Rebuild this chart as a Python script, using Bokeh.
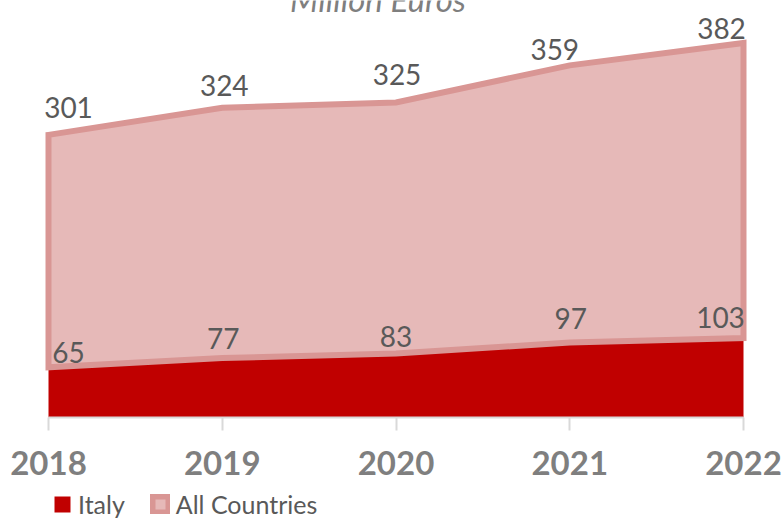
from bokeh.plotting import figure
from bokeh.models import ColumnDataSource, Legend, LegendItem, FixedTicker, Range1d
from bokeh.core.properties import value
from bokeh.embed import file_html
from bokeh.resources import INLINE

# ---- data ----
years = [2018, 2019, 2020, 2021, 2022]
italy = [65, 77, 83, 97, 103]
all_countries = [301, 324, 325, 359, 382]
chart_title = "Million Euros"
series_names = ["Italy", "All Countries"]

# label nudges (pixels), style only; dy > 0 means above the point
italy_dx = [20, 1, 0, 1, -23]
italy_dy = [15, 20, 17, 24, 20]
all_dx = [20, 2, 1, -15, -22]
all_dy = [27, 22, 28, 16, 14]

stack_top = [i + a for i, a in zip(italy, all_countries)]

RED = "#c00000"
PINK_FILL = "#e6b9b8"
PINK_LINE = "#d99694"
LABEL = "#595959"
AXIS_TXT = "#7f7f7f"

# frame covers the whole window; first year sits 48 px from the left,
# last year 40 px from the right, value 0 sits 102 px above the bottom
W, H = 783, 519
PX_PER_YEAR = (W - 48 - 40) / (years[-1] - years[0])
PX_PER_UNIT = 417 / 540
p = figure(frame_width=W, frame_height=H, output_backend="svg", toolbar_location=None,
           x_range=Range1d(years[0] - 48 / PX_PER_YEAR, years[-1] + 40 / PX_PER_YEAR),
           y_range=Range1d(-102 / PX_PER_UNIT, 540),
           min_border_left=0, min_border_right=0, min_border_top=0, min_border_bottom=0,
           y_axis_location=None, outline_line_color=None)
p.grid.visible = False

r_it = p.varea(x=years, y1=[0] * len(years), y2=italy, fill_color=RED)
r_all = p.patch(x=years + years[::-1], y=stack_top + italy[::-1],
                fill_color=PINK_FILL, line_color=PINK_LINE, line_width=6, line_join="miter")

src_all = ColumnDataSource(dict(x=years, y=stack_top, t=[str(v) for v in all_countries],
                                dx=all_dx, dy=[-d for d in all_dy]))
src_it = ColumnDataSource(dict(x=years, y=italy, t=[str(v) for v in italy],
                               dx=italy_dx, dy=[-d for d in italy_dy]))
for src in (src_all, src_it):
    p.text(x="x", y="y", text="t", x_offset="dx", y_offset="dy", source=src,
           text_align="center", text_baseline="middle",
           text_font=value("Lato"), text_font_size="28px", text_color=LABEL)

p.text(x=[2020], y=[540], text=[chart_title], x_offset=-18, y_offset=-2,
       text_align="center", text_baseline="alphabetic",
       text_font=value("Lato"), text_font_style="italic", text_font_size="33px",
       text_color=AXIS_TXT)

ax = p.xaxis[0]
ax.fixed_location = 0
ax.ticker = FixedTicker(ticks=years)
ax.bounds = (years[0], years[-1])
ax.axis_line_color = "#d9d9d9"
ax.axis_line_width = 2
ax.major_tick_line_color = "#d9d9d9"
ax.major_tick_line_width = 2
ax.major_tick_out = 13
ax.major_tick_in = 0
ax.minor_tick_out = 0
ax.minor_tick_in = 0
ax.major_label_standoff = 20
ax.major_label_text_font = "Lato"
ax.major_label_text_font_style = "bold"
ax.major_label_text_font_size = "33px"
ax.major_label_text_color = AXIS_TXT

legend = Legend(items=[LegendItem(label=series_names[0], renderers=[r_it]),
                       LegendItem(label=series_names[1], renderers=[r_all])],
                orientation="horizontal", location=(52, 0),
                border_line_color=None, background_fill_alpha=0,
                label_text_font="Lato", label_text_font_size="25px", label_text_color=LABEL,
                glyph_width=20, glyph_height=20, label_standoff=6, spacing=25,
                padding=0, margin=0)
p.add_layout(legend)

open("out.html", "w").write(file_html(p, INLINE))
